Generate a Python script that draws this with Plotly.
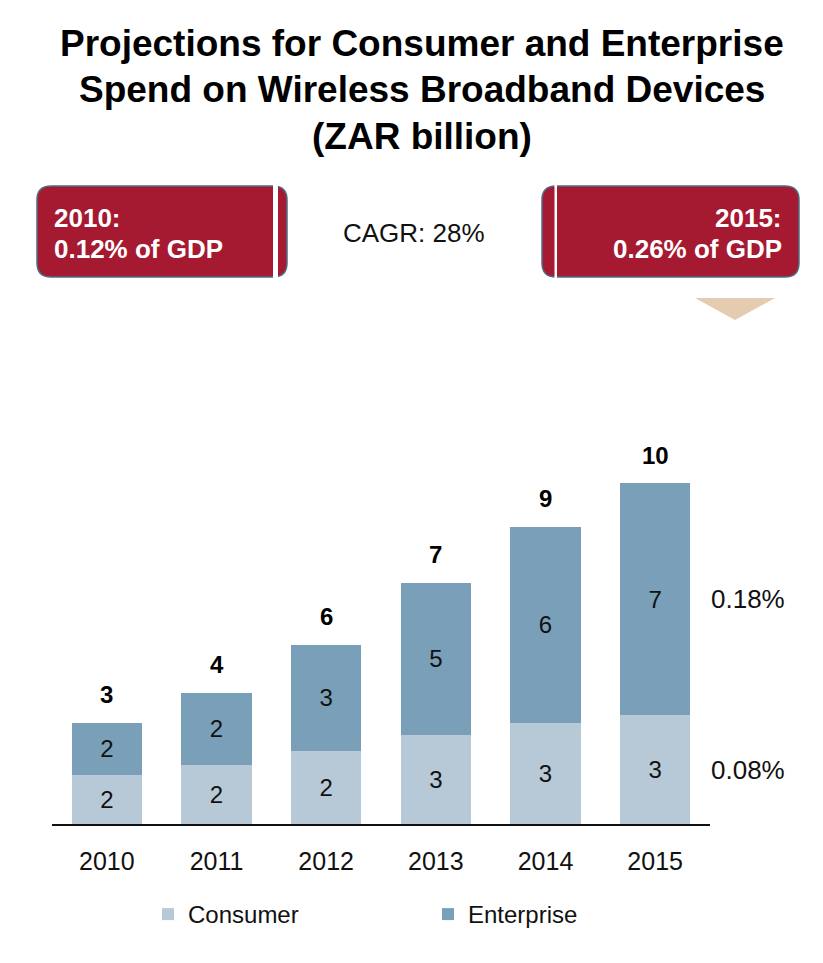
import plotly.graph_objects as go

years = ["2010", "2011", "2012", "2013", "2014", "2015"]
consumer = [1.51, 1.82, 2.25, 2.74, 3.11, 3.35]
enterprise = [1.60, 2.22, 3.26, 4.68, 6.03, 7.14]
totals = [c + e for c, e in zip(consumer, enterprise)]
total_labels = ["3", "4", "6", "7", "9", "10"]
gdp_share_labels = ["0.08%", "0.18%"]
title_lines = ["Projections for Consumer and Enterprise",
               "Spend on Wireless Broadband Devices",
               "(ZAR billion)"]
box_left = ["2010:", "0.12% of GDP"]
box_right = ["2015:", "0.26% of GDP"]
cagr_text = "CAGR: 28%"

FONT = "Liberation Sans, Arial, Helvetica, sans-serif"
C_CONS = "#B7C9D7"
C_ENT = "#7A9FB8"
RED = "#A51A31"
BORDER = "#4F6C82"

W, H = 823, 963
L, R, T, B = 52, 710, 300, 824  # plot area in pixels
PXU = 32.5  # pixels per unit


def X(px):
    return (px - L) / (R - L)


def Y(py):
    return (B - py) / (B - T)


fig = go.Figure()
fig.add_trace(go.Bar(x=years, y=consumer, name="Consumer", marker_color=C_CONS,
                     marker_line_width=0,
                     texttemplate="%{y:.0f}", textposition="inside",
                     insidetextanchor="middle", constraintext="none",
                     textfont=dict(size=24, color="#111111", family=FONT)))
fig.add_trace(go.Bar(x=years, y=enterprise, name="Enterprise", marker_color=C_ENT,
                     marker_line_width=0,
                     texttemplate="%{y:.0f}", textposition="inside",
                     insidetextanchor="middle", constraintext="none",
                     textfont=dict(size=24, color="#111111", family=FONT)))

annotations = []
for i, (tot, lab) in enumerate(zip(totals, total_labels)):
    annotations.append(dict(x=i, y=tot, xref="x", yref="y", text="<b>%s</b>" % lab,
                            showarrow=False, yshift=28,
                            font=dict(size=24, color="#000000", family=FONT)))

# GDP share labels aligned with 2015 segments
annotations.append(dict(x=0.999, xref="paper", y=consumer[-1] / 2, yref="y",
                        text=gdp_share_labels[0], showarrow=False, xanchor="left",
                        font=dict(size=26, color="#111111", family=FONT)))
annotations.append(dict(x=0.999, xref="paper", y=consumer[-1] + enterprise[-1] / 2, yref="y",
                        text=gdp_share_labels[1], showarrow=False, xanchor="left",
                        font=dict(size=26, color="#111111", family=FONT)))

# Title lines
for i, line in enumerate(title_lines):
    annotations.append(dict(x=X(422), y=Y(43 + i * 46.7), xref="paper", yref="paper",
                            text="<b>%s</b>" % line, showarrow=False,
                            xanchor="center", yanchor="middle",
                            font=dict(size=37, color="#000000", family=FONT)))

# Box texts
annotations.append(dict(x=X(52), y=Y(218), xref="paper", yref="paper", text="<b>%s</b>" % box_left[0],
                        showarrow=False, xanchor="left", yanchor="middle",
                        font=dict(size=26, color="white", family=FONT)))
annotations.append(dict(x=X(52), y=Y(249), xref="paper", yref="paper", text="<b>%s</b>" % box_left[1],
                        showarrow=False, xanchor="left", yanchor="middle",
                        font=dict(size=26, color="white", family=FONT)))
annotations.append(dict(x=X(784), y=Y(218), xref="paper", yref="paper", text="<b>%s</b>" % box_right[0],
                        showarrow=False, xanchor="right", yanchor="middle",
                        font=dict(size=26, color="white", family=FONT)))
annotations.append(dict(x=X(784), y=Y(249), xref="paper", yref="paper", text="<b>%s</b>" % box_right[1],
                        showarrow=False, xanchor="right", yanchor="middle",
                        font=dict(size=26, color="white", family=FONT)))
annotations.append(dict(x=X(414), y=Y(233), xref="paper", yref="paper", text=cagr_text,
                        showarrow=False, xanchor="center", yanchor="middle",
                        font=dict(size=26, color="#111111", family=FONT)))


def rrect(x0, y0, x1, y1, r):
    p = "M %f,%f " % (X(x0 + r), Y(y0))
    p += "L %f,%f " % (X(x1 - r), Y(y0))
    p += "Q %f,%f %f,%f " % (X(x1), Y(y0), X(x1), Y(y0 + r))
    p += "L %f,%f " % (X(x1), Y(y1 - r))
    p += "Q %f,%f %f,%f " % (X(x1), Y(y1), X(x1 - r), Y(y1))
    p += "L %f,%f " % (X(x0 + r), Y(y1))
    p += "Q %f,%f %f,%f " % (X(x0), Y(y1), X(x0), Y(y1 - r))
    p += "L %f,%f " % (X(x0), Y(y0 + r))
    p += "Q %f,%f %f,%f Z" % (X(x0), Y(y0), X(x0 + r), Y(y0))
    return p


shapes = []
shapes.append(dict(type="path", xref="paper", yref="paper", path=rrect(37, 186, 287, 277, 14),
                   fillcolor=RED, line=dict(color=BORDER, width=1.5), layer="below"))
shapes.append(dict(type="path", xref="paper", yref="paper", path=rrect(542, 186, 799, 277, 14),
                   fillcolor=RED, line=dict(color=BORDER, width=1.5), layer="below"))
shapes.append(dict(type="rect", xref="paper", yref="paper", x0=X(273), x1=X(278), y0=Y(184), y1=Y(279),
                   fillcolor="white", line=dict(width=0), layer="below"))
shapes.append(dict(type="rect", xref="paper", yref="paper", x0=X(554.5), x1=X(557), y0=Y(184), y1=Y(279),
                   fillcolor="white", line=dict(width=0), layer="below"))
shapes.append(dict(type="path", xref="paper", yref="paper",
                   path="M %f,%f L %f,%f L %f,%f Z" % (X(695), Y(298), X(775), Y(298), X(735), Y(320)),
                   fillcolor="#E5CBAF", line=dict(width=0), layer="below"))

fig.update_layout(
    width=W, height=H,
    margin=dict(l=L, r=W - R, t=T, b=H - B, pad=0),
    barmode="stack", bargap=0.36,
    plot_bgcolor="white", paper_bgcolor="white",
    font=dict(family=FONT, color="#111111"),
    showlegend=True,
    legend=dict(orientation="h", x=X(148), y=Y(892), xanchor="left", yanchor="top",
                entrywidth=235, entrywidthmode="pixels",
                font=dict(size=24, family=FONT, color="#111111"),
                bgcolor="rgba(0,0,0,0)", borderwidth=0, traceorder="normal"),
    xaxis=dict(type="category", showline=True, linecolor="#111111", linewidth=1.5, showgrid=False,
               ticks="outside", ticklen=14, tickcolor="rgba(0,0,0,0)",
               tickfont=dict(size=25, family=FONT, color="#111111"),
               range=[-0.5, 5.5], fixedrange=True),
    yaxis=dict(visible=False, range=[0, (B - T) / PXU], showgrid=False, fixedrange=True),
    annotations=annotations, shapes=shapes,
)

fig.write_html("out.html")
